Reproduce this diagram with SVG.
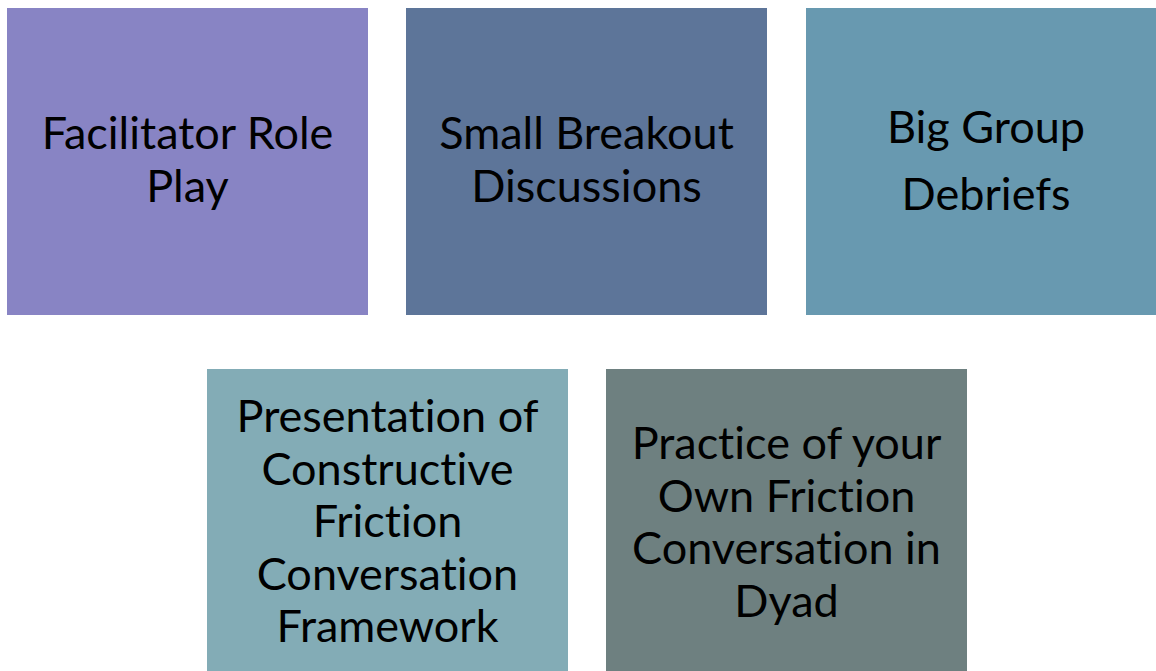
<svg xmlns="http://www.w3.org/2000/svg" width="1156" height="671" viewBox="0 0 1156 671">
<style>
  .lbl { font-family: Lato, "Liberation Sans", sans-serif; font-size: 45px; fill: #000; text-anchor: middle; font-variant-ligatures: none; font-feature-settings: "liga" 0, "clig" 0; }
</style>
<rect x="0" y="0" width="1156" height="671" fill="#ffffff"/>
<g id="node-facilitator">
  <rect x="7" y="8" width="361" height="307" fill="#8884C4"/>
  <text class="lbl"><tspan x="187.5" y="149">Facilitator Role</tspan><tspan x="187.5" y="202">Play</tspan></text>
</g>
<g id="node-breakout">
  <rect x="406" y="8" width="361" height="307" fill="#5D7599"/>
  <text class="lbl"><tspan x="586.5" y="149">Small Breakout</tspan><tspan x="586.5" y="202">Discussions</tspan></text>
</g>
<g id="node-debriefs">
  <rect x="806" y="8" width="350" height="307" fill="#6899B0"/>
  <text class="lbl"><tspan x="986" y="143">Big Group</tspan><tspan x="986" y="210">Debriefs</tspan></text>
</g>
<g id="node-presentation">
  <rect x="207" y="369" width="361" height="302" fill="#83ACB6"/>
  <text class="lbl"><tspan x="387.5" y="432">Presentation of</tspan><tspan x="387.5" y="484.5">Constructive</tspan><tspan x="387.5" y="537">Friction</tspan><tspan x="387.5" y="589.5">Conversation</tspan><tspan x="387.5" y="642">Framework</tspan></text>
</g>
<g id="node-practice">
  <rect x="606" y="369" width="361" height="302" fill="#6E8080"/>
  <text class="lbl"><tspan x="786.5" y="459">Practice of your</tspan><tspan x="786.5" y="511.5">Own Friction</tspan><tspan x="786.5" y="564">Conversation in</tspan><tspan x="786.5" y="616.5">Dyad</tspan></text>
</g>
<g id="connectors"></g>
</svg>
